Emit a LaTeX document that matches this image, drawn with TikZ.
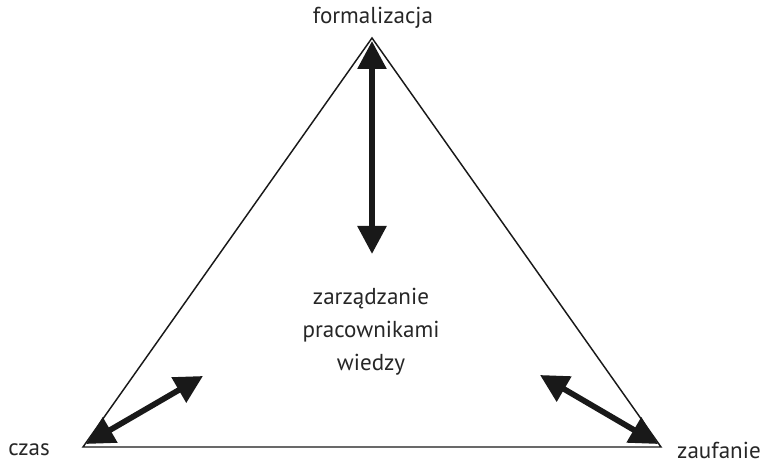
\documentclass[tikz,border=0pt]{standalone}
\usepackage{fontspec}
\setmainfont{PT Sans}
\usetikzlibrary{arrows.meta}
\begin{document}
\begin{tikzpicture}[x=0.75pt,y=-0.75pt,
  lbl/.style={font=\fontsize{17.3pt}{24.6pt}\selectfont, text=black!85, inner sep=0pt},
  side/.style={line width=1.1pt, black!90},
  dbl/.style={line width=4.3pt, black!90, {Triangle[length=21pt,width=21pt]}-{Triangle[length=21pt,width=21pt]}, shorten <=0pt, shorten >=0pt}]
\useasboundingbox (0,0) rectangle (769,463);
\coordinate (T) at (372,38);
\coordinate (L) at (83,447);
\coordinate (R) at (661,447);
\draw[side, line join=miter] (T) -- (L) -- (R) -- cycle;
\coordinate (ta) at (372,41);
\coordinate (tb) at (372,254);
\draw[dbl] (ta) -- (tb);
\coordinate (la) at (86,444);
\coordinate (lb) at (203,376);
\draw[dbl] (la) -- (lb);
\coordinate (ra) at (658,444);
\coordinate (rb) at (540,375);
\draw[dbl] (ra) -- (rb);
\node[lbl] (form) at (373,18) {formalizacja};
\node[lbl, anchor=west] (czas) at (8,450) {czas};
\node[lbl, anchor=east] (zauf) at (761,450) {zaufanie};
\node[lbl, align=center] (mid) at (371,332) {zarządzanie\\pracownikami\\wiedzy};
\end{tikzpicture}
\end{document}
